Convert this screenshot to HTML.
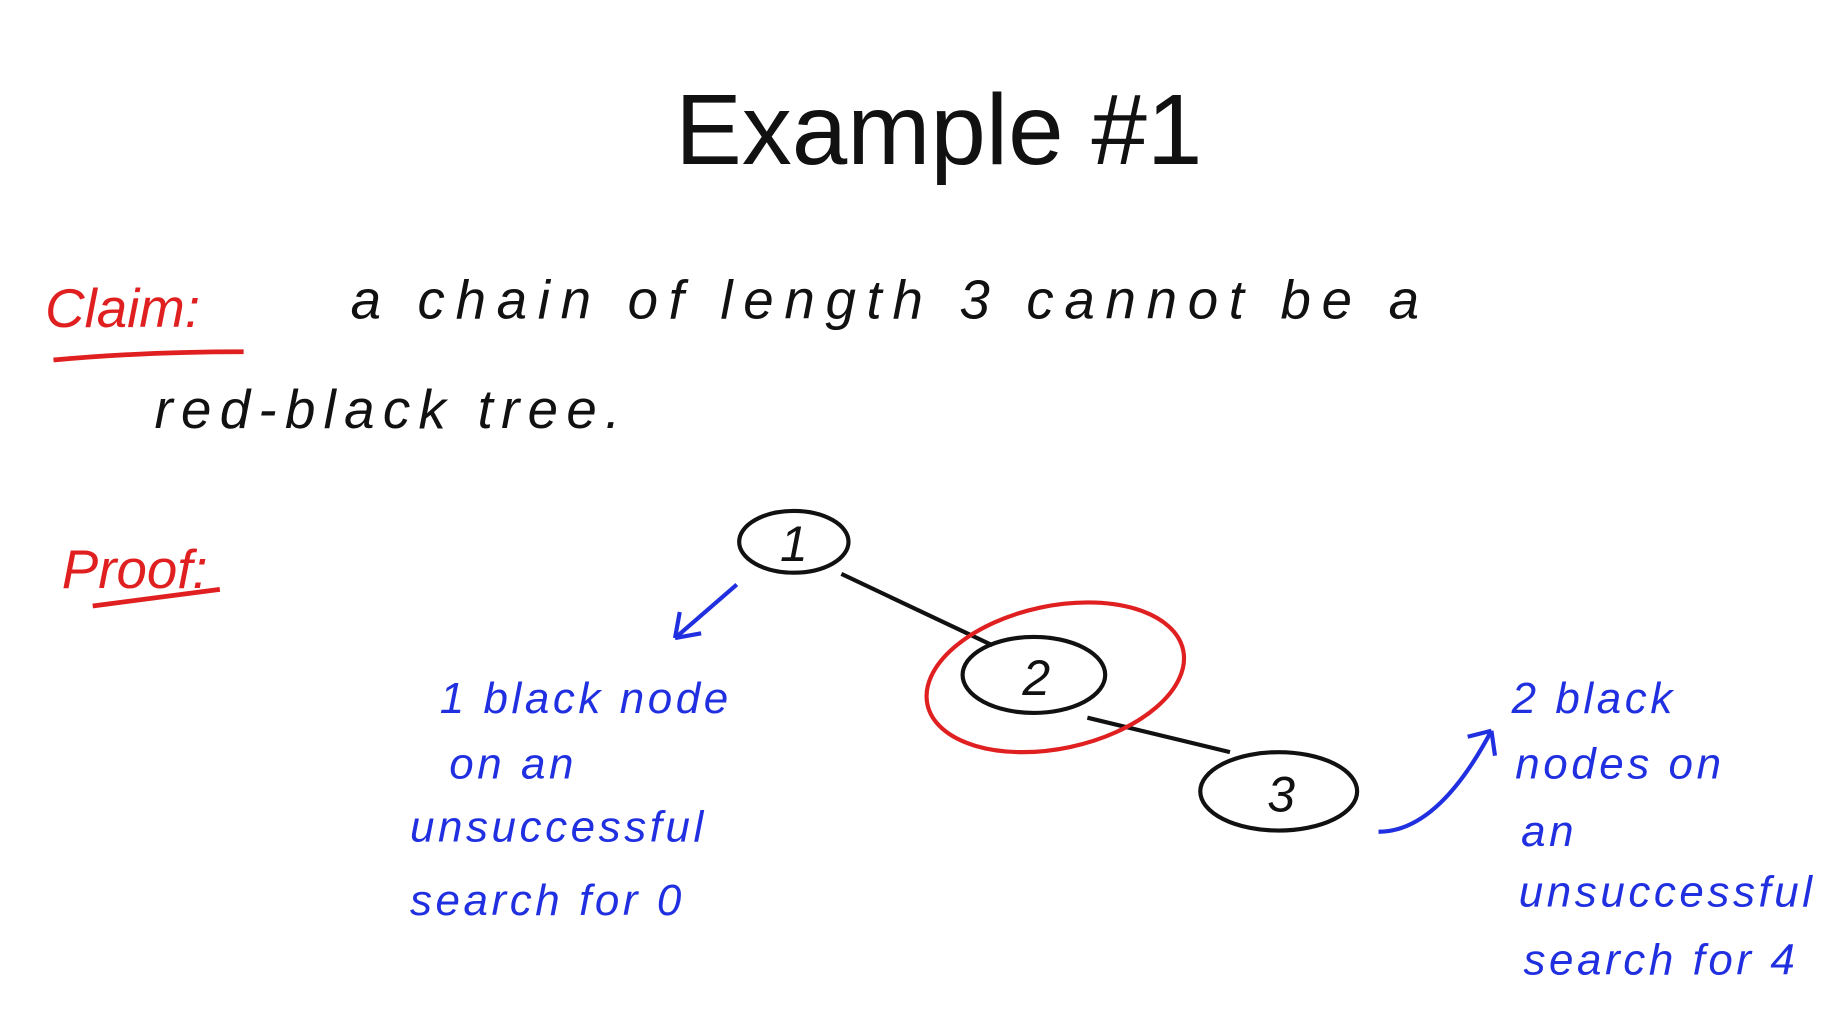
<!DOCTYPE html>
<html><head><meta charset="utf-8"><style>
html,body{margin:0;padding:0;background:#fff;}
svg{display:block;}
.h{font-family:"Liberation Sans",sans-serif;font-style:italic;}
</style></head><body>
<svg width="1842" height="1010" viewBox="0 0 1550 850" preserveAspectRatio="none" xmlns="http://www.w3.org/2000/svg">
<rect width="1550" height="850" fill="#fff"/>
<text x="790" y="138" text-anchor="middle" font-family="Liberation Sans, sans-serif" font-size="84" fill="#111">Example #1</text>
<g class="h" font-size="46">
<text x="38" y="275" fill="#e02020">Claim:</text>
<path d="M45 303 Q120 296 205 296" stroke="#e02020" stroke-width="4" fill="none"/>
<text x="295" y="268" fill="#111" letter-spacing="9">a chain of length 3  cannot be a</text>
<text x="130" y="360" fill="#111" letter-spacing="7">red-black tree.</text>
<text x="52" y="495" fill="#e02020">Proof:</text>
<path d="M78 510 Q130 503 185 496" stroke="#e02020" stroke-width="4" fill="none"/>
</g>
<g fill="none" stroke="#111" stroke-width="3.5">
<ellipse cx="668" cy="456" rx="46" ry="26"/>
<ellipse cx="870" cy="568" rx="60" ry="32"/>
<ellipse cx="1076" cy="666" rx="66" ry="33"/>
<path d="M708 483 L835 543"/>
<path d="M915 604 L1035 633"/>
</g>
<ellipse cx="888" cy="570" rx="110" ry="60" transform="rotate(-12 888 570)" fill="none" stroke="#e02020" stroke-width="3.5"/>
<g font-family="Liberation Sans, sans-serif" font-style="italic" font-size="42" fill="#111" text-anchor="middle">
<text x="668" y="472">1</text>
<text x="872" y="585">2</text>
<text x="1078" y="683">3</text>
</g>
<g fill="none" stroke="#2030e0" stroke-width="3.5">
<path d="M620 492 L568 537 M568 537 L572 515 M568 537 L590 533"/>
<path d="M1160 700 Q1210 700 1255 615 M1255 615 L1235 620 M1255 615 L1258 636"/>
</g>
<g class="h" font-size="37" fill="#2030e0" letter-spacing="3">
<text x="370" y="600">1 black node</text>
<text x="378" y="655">on an</text>
<text x="345" y="708">unsuccessful</text>
<text x="345" y="770">search for 0</text>
<text x="1272" y="600">2 black</text>
<text x="1275" y="655">nodes on</text>
<text x="1280" y="712">an</text>
<text x="1278" y="763">unsuccessful</text>
<text x="1282" y="820">search for 4</text>
</g>
</svg>
</body></html>
